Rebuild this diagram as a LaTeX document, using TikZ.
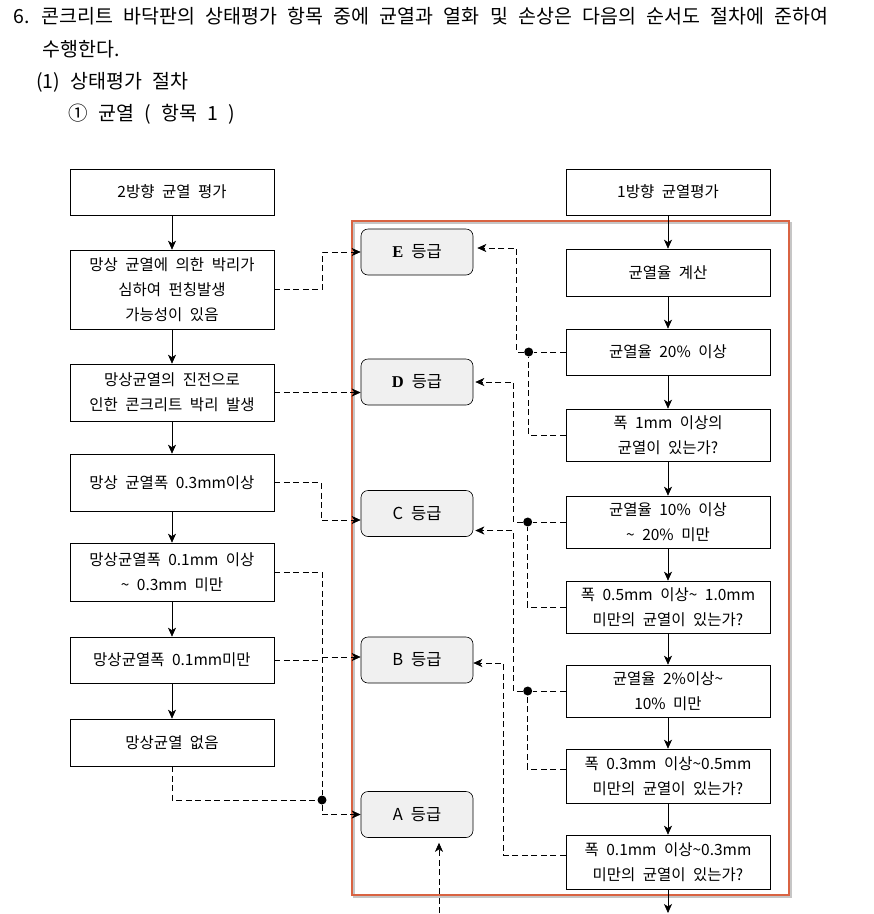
\documentclass[tikz,border=0pt]{standalone}
\usepackage{fontspec}
\setmainfont{Noto Sans CJK KR}
\newfontfamily\gradeletter{Liberation Serif}
\usetikzlibrary{positioning,arrows.meta}
\definecolor{framered}{RGB}{217,99,66}
\definecolor{gradegray}{RGB}{240,240,240}
\newcommand\boxfont{\fontsize{15.5}{25}\selectfont\spaceskip 7.5pt\relax}
\newcommand\gradefont{\fontsize{16.5}{18}\selectfont\spaceskip 8pt\relax}
\newcommand\headfont{\fontsize{19.5}{21}\selectfont\spaceskip 10.3pt\relax}

\begin{document}
\begin{tikzpicture}[x=1pt, y=-1pt, -{Stealth[length=9pt,width=8pt,inset=2.5pt]},
node distance=90pt, on grid, semithick,
box/.style={draw, rectangle, minimum width=204pt, minimum height=46pt, inner sep=2pt,
  align=center, font=\boxfont},
grade/.style={draw, rounded corners=7pt, fill=gradegray, minimum width=112pt,
  minimum height=46pt, font=\gradefont},
dashline/.style={dash pattern=on 6pt off 3.5pt},
head/.style={anchor=west, inner sep=0pt, font=\headfont},
joint/.style={circle, fill, inner sep=0pt, minimum size=9pt}]
\useasboundingbox (0,0) rectangle (874,914);
\coordinate (pageBottom) at (0,913);

% heading
\node[head] (t1) at (13,16) {6. 콘크리트 바닥판의 상태평가 항목 중에 균열과 열화 및 손상은 다음의 순서도 절차에 준하여};
\node[head] (t2) at (42,49) {수행한다.};
\node[head] (t3) at (36,82) {(1) 상태평가 절차};
\node[head] (t4) at (68,114) {① 균열 ( 항목 1 )};

% frame
\draw[gray!45, line width=2pt, -] (354,223) rectangle (791,897);
\draw[framered, line width=2pt, -] (352,221) rectangle (789,895);

% left column
\node[box] (L1) at (172,192) {2방향 균열 평가};
\node[box, minimum height=79pt] (L2) [below=97.5pt of L1] {망상 균열에 의한 박리가\\심하여 펀칭발생\\가능성이 있음};
\node[box, minimum height=57pt] (L3) [below=103pt of L2] {망상균열의 진전으로\\인한 콘크리트 박리 발생};
\node[box, minimum height=57pt] (L4) [below=90pt of L3] {망상 균열폭 0.3mm이상};
\node[box, minimum height=58pt] (L5) [below=89.5pt of L4] {망상균열폭 0.1mm 이상\\\textasciitilde{} 0.3mm 미만};
\node[box] (L6) [below=88pt of L5] {망상균열폭 0.1mm미만};
\node[box, minimum height=47pt] (L7) [below=82.5pt of L6] {망상균열 없음};

% right column
\node[box] (R1) at (668,192) {1방향 균열평가};
\node[box, minimum height=47pt] (R2) [below=80.5pt of R1] {균열율 계산};
\node[box] (R3) [below=79.5pt of R2] {균열율 20\% 이상};
\node[box, minimum height=52pt] (R4) [below=83pt of R3] {폭 1mm 이상의\\균열이 있는가?};
\node[box, minimum height=52pt] (R5) [below=87pt of R4] {균열율 10\% 이상\\\textasciitilde{} 20\% 미만};
\node[box, minimum height=52pt] (R6) [below=85pt of R5] {폭 0.5mm 이상\textasciitilde{} 1.0mm\\미만의 균열이 있는가?};
\node[box, minimum height=52pt] (R7) [below=84pt of R6] {균열율 2\%이상\textasciitilde\\10\% 미만};
\node[box, minimum height=54pt] (R8) [below=85pt of R7] {폭 0.3mm 이상\textasciitilde0.5mm\\미만의 균열이 있는가?};
\node[box, minimum height=54pt] (R9) [below=86pt of R8] {폭 0.1mm 이상\textasciitilde0.3mm\\미만의 균열이 있는가?};

% grades
\node[grade] (E) at (417,252) {{\gradeletter\bfseries E}\ 등급};
\node[grade] (D) [below=130pt of E] {{\gradeletter\bfseries D}\ 등급};
\node[grade] (C) [below=131.5pt of D] {C\ 등급};
\node[grade] (B) [below=146.5pt of C] {B\ 등급};
\node[grade] (A) [below=154.5pt of B] {A\ 등급};

\foreach \a/\b in {L1/L2,L2/L3,L3/L4,L4/L5,L5/L6,L6/L7,R1/R2,R2/R3,R3/R4,R4/R5,R5/R6,R6/R7,R7/R8,R8/R9}
  \draw (\a) -- (\b);
\draw (R9.south) -- (R9.south |- pageBottom);

% left side to grades
\draw[dashline] (L2.east) -- ++(48pt,0) |- (E.west);
\draw[dashline] (L3.east) -- (L3.east -| D.west);
\draw[dashline] (L4.east) -- ++(47pt,0) |- ([yshift=-6.5pt]C.west);
\node[joint] (dA) at (322,800) {};
\draw[dashline,-] (L5.east) -| (dA);
\draw[dashline,-] (L6.east) -- (L6.east -| dA);
\draw[dashline,-] (L7.south) |- (dA);
\draw[dashline] (dA) |- (A.west);
\coordinate (bIn) at ([yshift=3pt]B.west);
\draw[dashline] (bIn -| dA) -- (bIn);

% right side to grades
\node[joint] (d1) at ([xshift=-37pt]R3.west) {};
\draw[dashline,-] (R3.west) -- (d1);
\draw[dashline,-] (R4.west) -| (d1);
\draw[dashline] (d1) -- ++(-12pt,0) |- ([xshift=4pt,yshift=4pt]E.east);
\node[joint] (d2) at ([xshift=-38pt]R5.west) {};
\draw[dashline,-] (R5.west) -- (d2);
\draw[dashline,-] (R6.west) -| (d2);
\draw[dashline] (d2) -- ++(-14pt,0) |- ([xshift=2pt]D.east);
\node[joint] (d3) at ([xshift=-38pt]R7.west) {};
\draw[dashline,-] (R7.west) -- (d3);
\draw[dashline,-] ([yshift=7pt]R8.west) -| (d3);
\draw[dashline] (d3) -- ++(-14pt,0) |- ([xshift=2pt,yshift=-17pt]C.east);
\draw[dashline] ([yshift=7pt]R9.west) -- ++(-62pt,0) |- ([yshift=-3pt]B.east);

% from below
\coordinate (aIn) at ([xshift=22pt,yshift=-5pt]A.south);
\draw[dashline] (aIn |- pageBottom) -- (aIn);
\end{tikzpicture}
\end{document}
